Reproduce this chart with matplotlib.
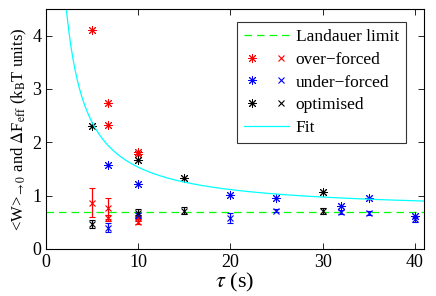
import numpy as np
import matplotlib
matplotlib.use("Agg")
import matplotlib.pyplot as plt
from matplotlib.lines import Line2D
from matplotlib.legend_handler import HandlerTuple

plt.rcParams["font.family"] = ["Liberation Serif", "DejaVu Serif"]
plt.rcParams["mathtext.fontset"] = "stix"

# mean work (stars) per protocol
over_star_tau = [5, 6.7, 6.7, 10, 10]
over_star_w = [4.1, 2.73, 2.33, 1.82, 1.78]
under_star_tau = [6.7, 10, 20, 25, 32, 35, 40]
under_star_w = [1.57, 1.21, 1.01, 0.96, 0.81, 0.95, 0.62]
opt_star_tau = [5, 10, 15, 30]
opt_star_w = [2.31, 1.66, 1.33, 1.06]

# effective free energy (crosses) with error bars
over_x_tau = [5, 6.7, 6.7, 10, 10]
over_x_f = [0.87, 0.76, 0.58, 0.58, 0.51]
over_x_err = [0.27, 0.2, 0.06, 0.05, 0.05]
under_x_tau = [6.7, 10, 20, 25, 32, 35, 40]
under_x_f = [0.40, 0.63, 0.58, 0.72, 0.69, 0.67, 0.56]
under_x_err = [0.08, 0.05, 0.1, 0.03, 0.04, 0.04, 0.05]
opt_x_tau = [5, 10, 15, 30]
opt_x_f = [0.47, 0.67, 0.72, 0.71]
opt_x_err = [0.07, 0.08, 0.07, 0.05]

landauer = np.log(2)
fit_a = 8.4  # fit: a / tau + ln2

fig = plt.figure(figsize=(4.36, 2.96), dpi=100)
ax = fig.add_axes([0.1055, 0.159, 0.867, 0.8106])

ax.axhline(landauer, color=(0, 1, 0), ls=(0, (6, 4)), lw=0.9)

ast = (8, 2, 0)
groups = [
    ((1, 0, 0), over_star_tau, over_star_w, over_x_tau, over_x_f, over_x_err),
    ((0, 0, 1), under_star_tau, under_star_w, under_x_tau, under_x_f, under_x_err),
    ((0, 0, 0), opt_star_tau, opt_star_w, opt_x_tau, opt_x_f, opt_x_err),
]
for c, st, sw, xt, xf, xe in groups:
    ax.plot(st, sw, ls="none", marker=ast, ms=6.5, mew=0.7, color=c)
    ax.errorbar(xt, xf, yerr=xe, ls="none", marker="x", ms=5, mew=0.8,
                color=c, ecolor=c, elinewidth=0.9, capsize=2.5)

tau = np.linspace(1.5, 41, 400)
ax.plot(tau, fit_a / tau + landauer, color=(0, 1, 1), lw=0.9)

ax.set_xlim(0, 41)
ax.set_ylim(0, 4.5)
ax.set_xticks([0, 10, 20, 30, 40])
ax.set_yticks([0, 1, 2, 3, 4])
ax.tick_params(direction="in", top=True, right=True, labelsize=13, length=4, width=0.6)
for s in ax.spines.values():
    s.set_linewidth(0.8)
ax.set_xlabel(r"$\tau$ (s)", fontsize=16, labelpad=0)
ax.set_ylabel(r"<W>$_{\rightarrow 0}$ and $\Delta$F$_{\rm eff}$ (k$_{\rm B}$T units)",
              fontsize=12, labelpad=2)

def pair(c):
    return (Line2D([], [], ls="none", marker=ast, ms=6.5, mew=0.7, color=c),
            Line2D([], [], ls="none", marker="x", ms=5, mew=0.8, color=c))

handles = [Line2D([], [], color=(0, 1, 0), ls=(0, (6, 4)), lw=0.9),
           pair((1, 0, 0)), pair((0, 0, 1)), pair((0, 0, 0)),
           Line2D([], [], color=(0, 1, 1), lw=0.9)]
labels = ["Landauer limit", "over\u2212forced", "under\u2212forced", "optimised", "Fit"]
leg = ax.legend(handles, labels, loc="upper right", bbox_to_anchor=(0.952, 0.946),
                fontsize=12.5, frameon=True, fancybox=False, edgecolor="black",
                handlelength=2.6, handletextpad=0.4, labelspacing=0.38,
                borderpad=0.4, borderaxespad=0,
                handler_map={tuple: HandlerTuple(ndivide=None, pad=0.8)})
leg.get_frame().set_linewidth(0.8)

fig.savefig("out.png", dpi=100, facecolor="white")
